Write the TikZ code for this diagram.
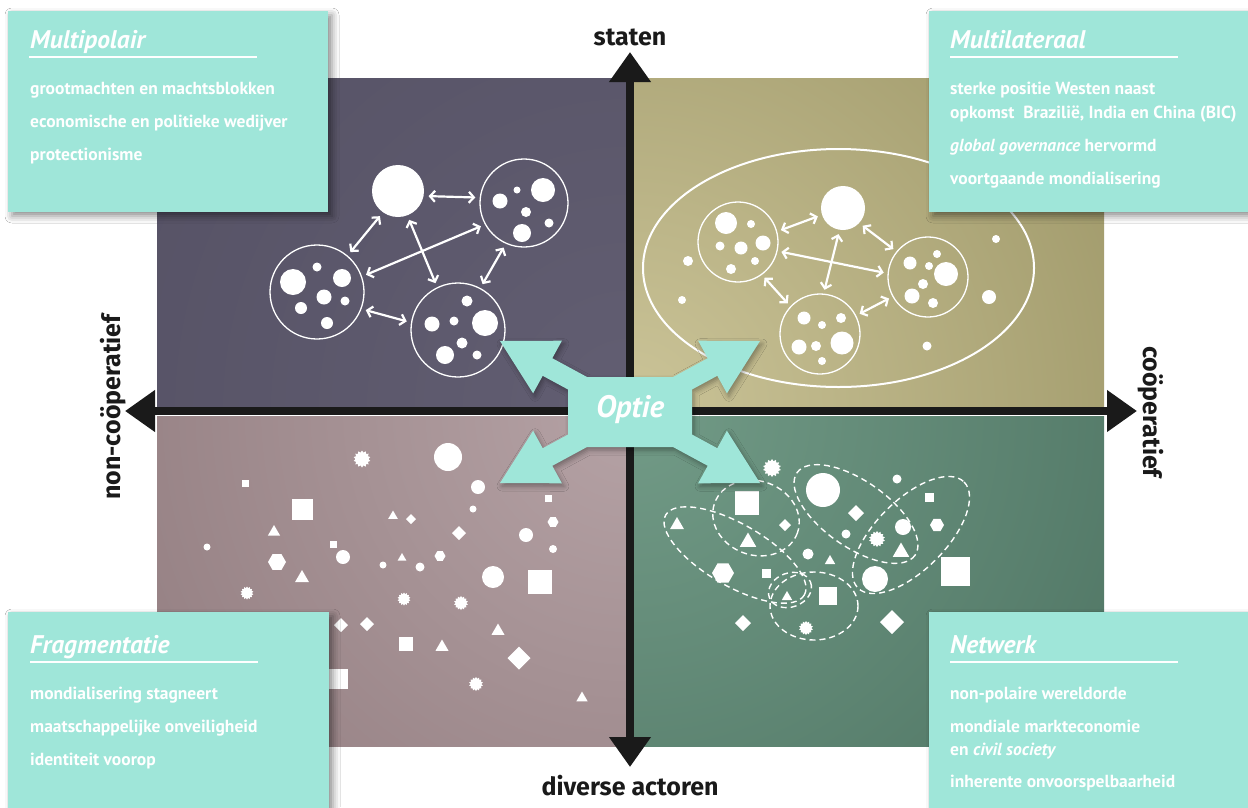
\documentclass[tikz,border=0pt]{standalone}
\usepackage{fontspec}
\setmainfont{PT Sans}
\newfontfamily\axisfont{Fira Sans}
\usetikzlibrary{shapes.geometric, arrows.meta, shadows.blur}
\definecolor{boxteal}{HTML}{9FE6D9}
\definecolor{axisblack}{HTML}{1A1A1A}
\definecolor{tlout}{HTML}{4A4659}
\definecolor{tlin}{HTML}{625E72}
\definecolor{trout}{HTML}{77713F}
\definecolor{trin}{HTML}{CBC498}
\definecolor{blout}{HTML}{765F62}
\definecolor{blin}{HTML}{B5A2A5}
\definecolor{brout}{HTML}{325546}
\definecolor{brin}{HTML}{729B87}
\begin{document}
\begin{tikzpicture}[x=1pt,y=-1pt,
  dot/.style={circle, fill=white, inner sep=0, outer sep=0, minimum size=#1},
  sq/.style={rectangle, fill=white, inner sep=0, outer sep=0, minimum size=#1},
  tri/.style={regular polygon, regular polygon sides=3, fill=white, inner sep=0, outer sep=0, minimum size=#1},
  hexa/.style={regular polygon, regular polygon sides=6, fill=white, inner sep=0, outer sep=0, minimum size=#1},
  dia/.style={diamond, aspect=1, fill=white, inner sep=0, outer sep=0, minimum size=#1},
  burst/.style={star, star points=14, star point ratio=1.3, fill=white, inner sep=0, outer sep=0, minimum size=#1},
  grp/.style={circle, draw=white, line width=1.3, inner sep=0, outer sep=0, minimum size=#1},
  netarrow/.style={draw=white, line width=2.2, {Straight Barb[length=5pt,width=11pt]}-{Straight Barb[length=5pt,width=11pt]}, shorten <=5, shorten >=5},
  blob/.style={draw=white, line width=1.4, dash pattern=on 6pt off 4pt},
  tealbox/.style={rectangle, fill=boxteal, inner sep=0, outer sep=0, anchor=north west,
     blur shadow={shadow xshift=4pt, shadow yshift=-4pt, shadow blur radius=7pt, shadow opacity=45}},
  boxtitle/.style={anchor=base west, inner sep=0, text=white, font=\fontsize{25.5}{30}\selectfont\bfseries\itshape},
  boxline/.style={anchor=base west, inner sep=0, text=white, font=\fontsize{17.5}{21}\selectfont\bfseries},
  axislabel/.style={inner sep=0, text=axisblack, font=\axisfont\fontsize{25}{30}\selectfont\bfseries},
  axisarrow/.style={draw=axisblack, line width=8, -{Triangle[length=30pt,width=40pt]}}
]
\useasboundingbox (0,0) rectangle (1248,807);
\fill[white] (0,0) rectangle (1248,807);

% quadrants
\begin{scope}\clip (157,78) rectangle (626,406);
  \shade[inner color=tlin, outer color=tlout] (630,410) circle (1150);\end{scope}
\begin{scope}\clip (634,78) rectangle (1104,406);
  \shade[inner color=trin, outer color=trout] (630,410) circle (1100);\end{scope}
\begin{scope}\clip (157,416) rectangle (626,746);
  \shade[inner color=blin, outer color=blout] (630,410) circle (1100);\end{scope}
\begin{scope}\clip (634,416) rectangle (1104,746);
  \shade[inner color=brin, outer color=brout] (630,410) circle (1100);\end{scope}

% axes
\coordinate (atop) at (630,52);
\coordinate (abot) at (630,767);
\coordinate (aleft) at (125,411);
\coordinate (aright) at (1137,411);
\coordinate (amid) at (630,411);
\draw[axisarrow] (amid) -- (atop);
\draw[axisarrow] (amid) -- (abot);
\draw[axisarrow] (amid) -- (aleft);
\draw[axisarrow] (amid) -- (aright);

\node[axislabel] (lstaten) at (630,37) {staten};
\node[axislabel] (ldiverse) at (630,786) {diverse actoren};
\node[axislabel, rotate=90] (lnon) at (113,407) {non-coöperatief};
\node[axislabel, rotate=-90] (lcoop) at (1151,412) {coöperatief};

% ---------- top-left network
\node[dot=52] (big) at (398,191) {};
\node[grp=88] (R) at (524,203) {};
\node[grp=94] (L) at (317,292) {};
\node[grp=94] (B) at (458,330) {};
\foreach \x/\y/\s [count=\i] in {500/201/15, 517/190/7, 543/190/24, 526/212/10, 522/233/18, 549/223/9}
  \node[dot=\s] (rd\i) at (\x,\y) {};
\foreach \x/\y/\s [count=\i] in {293/282/26, 317/267/9, 342/278/18, 324/297/15, 345/301/9, 301/308/12, 327/323/12}
  \node[dot=\s] (ld\i) at (\x,\y) {};
\foreach \x/\y/\s [count=\i] in {467/301/11, 454/321/9, 432/324/15, 485/323/26, 462/343/11, 445/355/18, 477/355/9}
  \node[dot=\s] (bd\i) at (\x,\y) {};
\draw[netarrow] (big.-11) -- (R.173);
\draw[netarrow] (big.-125) -- (L.50);
\draw[netarrow] (big.-69) -- (B.116);
\draw[netarrow] (R.-151) -- (L.19);
\draw[netarrow] (R.-114) -- (B.62);
\draw[netarrow] (L.-21) -- (B.171);

% ---------- top-right network
\draw[white, line width=2] (838.5,268) ellipse [x radius=195.5, y radius=119];
\node[dot=44] (big2) at (843,208) {};
\node[grp=80] (L2) at (738,242) {};
\node[grp=80] (R2) at (928,277) {};
\node[grp=80] (B2) at (820,334) {};
\foreach \x/\y/\s [count=\i] in {726/223/22, 751/224/8, 763/243/15, 741/248/13, 720/246/9, 755/261/8, 731/269/10}
  \node[dot=\s] (l2d\i) at (\x,\y) {};
\foreach \x/\y/\s [count=\i] in {910/263/13, 937/254/8, 929/266/8, 946/274/24, 923/284/10, 912/296/15, 933/303/10}
  \node[dot=\s] (r2d\i) at (\x,\y) {};
\foreach \x/\y/\s [count=\i] in {804/318/13, 822/325/8, 841/318/10, 799/347/15, 816/346/10, 842/343/23, 822/361/8}
  \node[dot=\s] (b2d\i) at (\x,\y) {};
\foreach \x/\y/\s [count=\i] in {688/261/10, 682/300/8, 996/239/8, 989/297/14, 927/346/9}
  \node[dot=\s] (e2d\i) at (\x,\y) {};
\begin{scope}[netarrow/.append style={shorten <=4.5, shorten >=4.5}]
\draw[netarrow] (L2.15) -- (big2.-162);
\draw[netarrow] (big2.-43) -- (R2.141);
\draw[netarrow] (big2.-99) -- (B2.85);
\draw[netarrow] (L2.-13) -- (R2.175);
\draw[netarrow] (L2.-54) -- (B2.137);
\draw[netarrow] (B2.27) -- (R2.-151);
\end{scope}

% ---------- bottom-left scattered shapes
\foreach \x/\y/\s [count=\i] in {362/459/17, 247/593/13, 404/599/13, 461/603/14, 476/684/14}
  \node[burst=\s] (blb\i) at (\x,\y) {};
\foreach \x/\y/\s [count=\i] in {448/457/28, 478/487/14, 473/509/7, 526/535/14, 207/547/7, 343/557/14, 553/549/8, 383/565/7, 420/567/9, 493/577/22}
  \node[dot=\s] (blc\i) at (\x,\y) {};
\foreach \x/\y/\s [count=\i] in {245/483/7, 302/509/21, 548/498/7, 333/544/7, 540/582/24, 406/644/14, 338/679/20}
  \node[sq=\s] (bls\i) at (\x,\y) {};
\foreach \x/\y/\s [count=\i] in {393/516/11, 274/532/14, 402/558/10, 302/578/16, 498/631/15, 442/647/15, 582/698/13}
  \node[tri=\s] (blt\i) at (\x,\y) {};
\foreach \x/\y/\s [count=\i] in {553/522/11, 277/562/18, 440/556/11}
  \node[hexa=\s] (blh\i) at (\x,\y) {};
\foreach \x/\y/\s [count=\i] in {411/519/10, 459/533/14, 341/625/14, 367/624/14, 519/658/23}
  \node[dia=\s] (bld\i) at (\x,\y) {};

% ---------- bottom-right network shapes
\draw[blob, rotate around={-30:(735,555)}] (735,555) ellipse [x radius=80, y radius=31];
\draw[blob, rotate around={-20:(756,518)}] (756,518) ellipse [x radius=44, y radius=37];
\draw[blob, rotate around={-35:(856,514)}] (856,514) ellipse [x radius=72, y radius=33];
\draw[blob, rotate around={45:(911,535)}] (911,535) ellipse [x radius=75, y radius=35];
\draw[blob] (814,606) ellipse [x radius=44, y radius=34];
\draw[blob, rotate around={20:(790,590)}] (790,590) ellipse [x radius=22, y radius=17];
\foreach \x/\y/\s [count=\i] in {772/468/18, 877/539/16, 806/628/14}
  \node[burst=\s] (brb\i) at (\x,\y) {};
\foreach \x/\y/\s [count=\i] in {823/490/34, 897/479/9, 846/534/9, 903/527/16, 808/554/11, 875/579/26}
  \node[dot=\s] (brc\i) at (\x,\y) {};
\foreach \x/\y/\s [count=\i] in {747/503/24, 929/497/9, 766/573/9, 955/571/29, 828/596/18}
  \node[sq=\s] (brs\i) at (\x,\y) {};
\foreach \x/\y/\s [count=\i] in {677/525/16, 748/542/19, 901/552/19, 830/561/12, 787/597/12}
  \node[tri=\s] (brt\i) at (\x,\y) {};
\foreach \x/\y/\s [count=\i] in {937/525/14, 723/573/22}
  \node[hexa=\s] (brh\i) at (\x,\y) {};
\foreach \x/\y/\s [count=\i] in {856/513/16, 785/525/12, 743/623/16, 892/622/24}
  \node[dia=\s] (brd\i) at (\x,\y) {};

% ---------- Optie shape
\fill[boxteal, blur shadow={shadow xshift=2pt, shadow yshift=-3pt, shadow blur radius=5pt, shadow opacity=35}]
  (673,377) -- (707.7,358.2) -- (698.1,340.7) -- (760,341) -- (726.9,393.3) -- (717.3,375.8) -- (692,389.5)
  -- (692,434.5) -- (717.3,448.2) -- (726.9,430.7) -- (760,483) -- (698.1,483.3) -- (707.7,465.8) -- (673,447)
  -- (587,447) -- (552.3,465.8) -- (561.9,483.3) -- (500,483) -- (533.1,430.7) -- (542.7,448.2) -- (568,434.5)
  -- (568,389.5) -- (542.7,375.8) -- (533.1,393.3) -- (500,341) -- (561.9,340.7) -- (552.3,358.2) -- (587,377) -- cycle;
\node[text=white, inner sep=0, font=\fontsize{31}{36}\selectfont\bfseries\itshape] (optie) at (630,410) {Optie};

% ---------- text boxes
\node[tealbox, minimum width=320, minimum height=201] (boxtl) at (8,11) {};
\node[boxtitle] (ttl) at (30,48) {Multipolair};
\draw[white, line width=1.5] (29,57) -- (257,57);
\node[boxline] (tl1) at (30,94) {grootmachten en machtsblokken};
\node[boxline] (tl2) at (30,127) {economische en politieke wedijver};
\node[boxline] (tl3) at (30,160) {protectionisme};

\node[tealbox, minimum width=319, minimum height=201] (boxtr) at (929,11) {};
\node[boxtitle] (ttr) at (950,48) {Multilateraal};
\draw[white, line width=1.5] (950,57) -- (1178,57);
\node[boxline] (tr1) at (950,94) {sterke positie Westen naast};
\node[boxline] (tr2) at (950,118) {opkomst\ \ Brazilië, India en China (BIC)};
\node[boxline] (tr3) at (950,151) {{\itshape global governance} hervormd};
\node[boxline] (tr4) at (950,184) {voortgaande mondialisering};

\node[tealbox, minimum width=321, minimum height=200] (boxbl) at (8,612) {};
\node[boxtitle] (tbl) at (30,653) {Fragmentatie};
\draw[white, line width=1.5] (30,662) -- (258,662);
\node[boxline] (bl1) at (30,699) {mondialisering stagneert};
\node[boxline] (bl2) at (30,732) {maatschappelijke onveiligheid};
\node[boxline] (bl3) at (30,765) {identiteit voorop};

\node[tealbox, minimum width=319, minimum height=200] (boxbr) at (929,612) {};
\node[boxtitle] (tbr) at (950,653) {Netwerk};
\draw[white, line width=1.5] (950,662) -- (1178,662);
\node[boxline] (br1) at (950,699) {non-polaire wereldorde};
\node[boxline] (br2) at (950,732) {mondiale markteconomie};
\node[boxline] (br3) at (950,755) {en {\itshape civil society}};
\node[boxline] (br4) at (950,787) {inherente onvoorspelbaarheid};
\end{tikzpicture}
\end{document}
